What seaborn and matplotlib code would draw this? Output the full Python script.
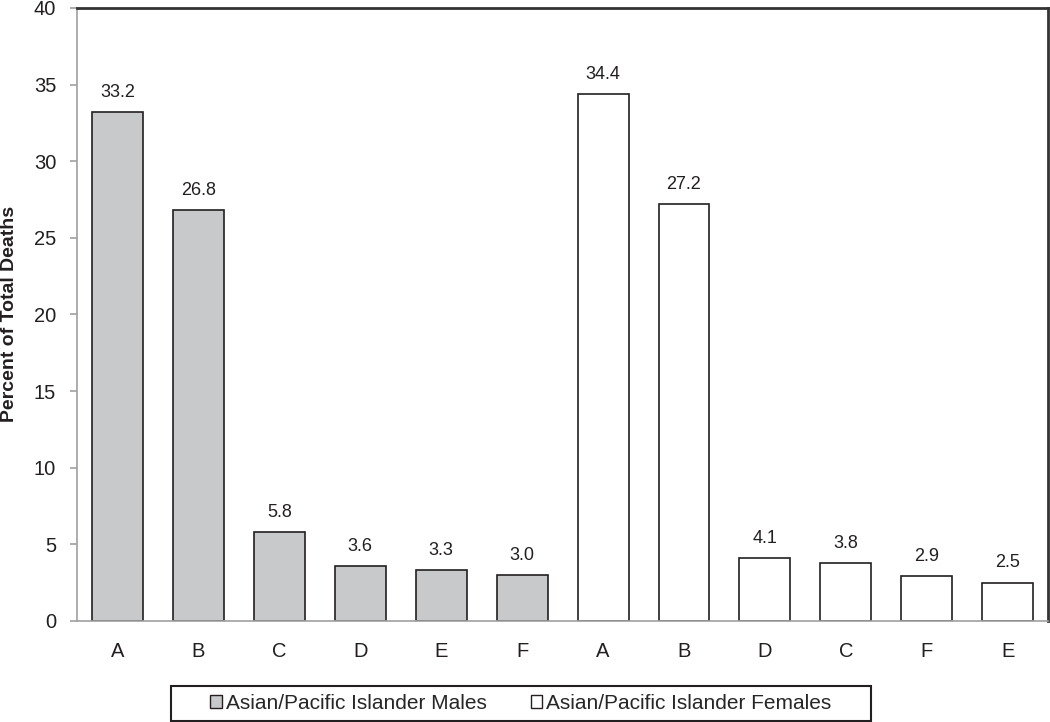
import pandas as pd
import matplotlib.pyplot as plt
import seaborn as sns
from matplotlib.patches import Patch, Rectangle

# data
male_causes = ["A", "B", "C", "D", "E", "F"]
male_values = [33.2, 26.8, 5.8, 3.6, 3.3, 3.0]
female_causes = ["A", "B", "D", "C", "F", "E"]
female_values = [34.4, 27.2, 4.1, 3.8, 2.9, 2.5]
groups = ["Asian/Pacific Islander Males", "Asian/Pacific Islander Females"]

df = pd.DataFrame({
    "pos": list(range(12)),
    "cause": male_causes + female_causes,
    "value": male_values + female_values,
    "group": [groups[0]] * 6 + [groups[1]] * 6,
})

sns.set_style("white")
plt.rcParams["font.family"] = ["Liberation Sans", "DejaVu Sans"]

fig = plt.figure(figsize=(10.5, 7.22), dpi=100)
ax = fig.add_axes([0.0733, 0.140, 0.925, 0.849])

colors = {groups[0]: "#c8c9cb", groups[1]: "#ffffff"}
sns.barplot(data=df, x="pos", y="value", hue="group", palette=colors,
            dodge=False, width=0.63, edgecolor="#231f20", linewidth=1.2,
            legend=False, ax=ax, native_scale=True)

for c in ax.containers:
    ax.bar_label(c, fmt="%.1f", padding=8, fontsize=13, color="#231f20")

ax.set_xlim(-0.5, 11.5)
ax.set_ylim(0, 40)
ax.set_yticks(range(0, 41, 5))
ax.set_xticks(range(12))
ax.set_xticklabels(df["cause"])
ax.set_xticks([i - 0.5 for i in range(13)], minor=True)
ax.tick_params(axis="x", which="major", length=0, pad=15, labelsize=14.5, labelcolor="#231f20")
ax.tick_params(axis="x", which="minor", length=5, width=1.2, color="#a0a0a0", direction="out")
ax.tick_params(axis="y", length=5, width=1.2, color="#a0a0a0", direction="out",
               pad=10, labelsize=14.5, labelcolor="#231f20", left=True)

ax.set_xlabel("")
ax.set_ylabel("Percent of Total Deaths", fontsize=14, fontweight="bold", color="#231f20")
ax.yaxis.set_label_coords(-0.061, 0.5)

for side in ["left", "bottom"]:
    ax.spines[side].set_color("#a0a0a0")
    ax.spines[side].set_linewidth(1.2)
for side in ["top", "right"]:
    ax.spines[side].set_color("#333333")
    ax.spines[side].set_linewidth(2)

# legend box is wider than its entries, so draw the frame separately
fig.patches.append(Rectangle((171 / 1050, 1 - 721 / 722), 700 / 1050, 35 / 722,
                             transform=fig.transFigure, fill=False,
                             edgecolor="#231f20", linewidth=1.5))
handles = [Patch(facecolor=colors[g], edgecolor="#231f20", linewidth=1) for g in groups]
fig.legend(handles, groups, loc="center", bbox_to_anchor=(521 / 1050, 1 - 703.5 / 722), ncol=2,
           fontsize=15, frameon=False, handlelength=0.55, handleheight=0.55,
           handletextpad=0.2, columnspacing=2.1, borderpad=0.2)

plt.savefig("out.png", dpi=100)
